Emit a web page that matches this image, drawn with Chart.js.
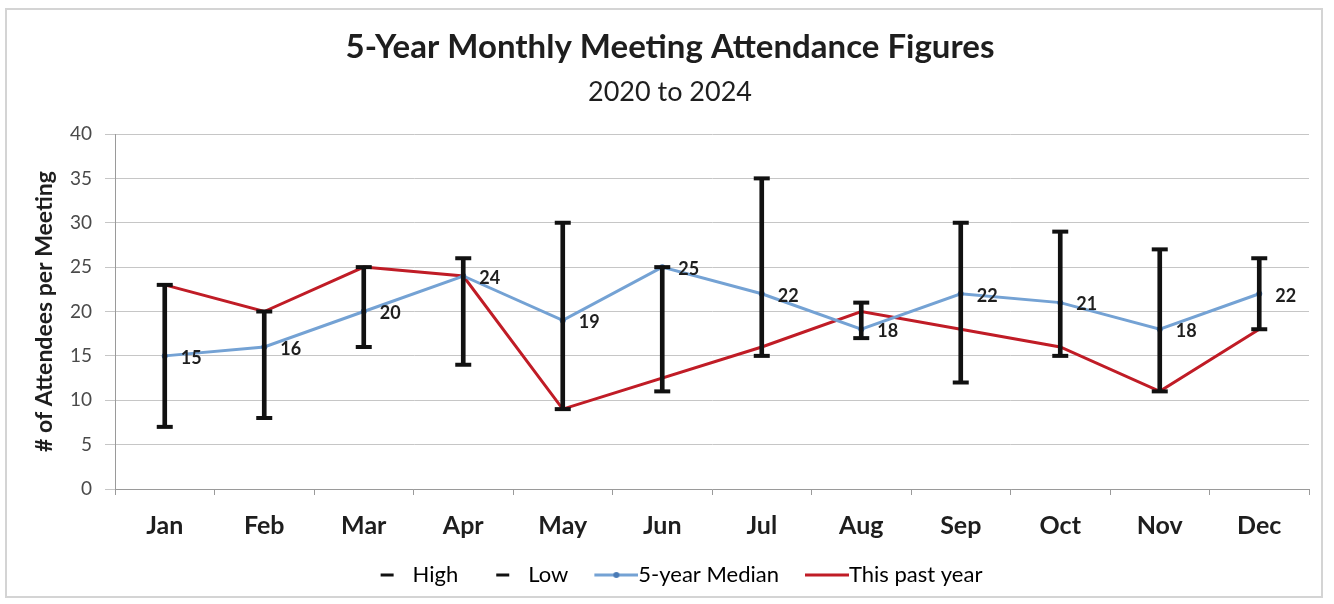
<!DOCTYPE html>
<html>
<head>
<meta charset="utf-8">
<script src="https://cdn.jsdelivr.net/npm/chart.js@4.4.1/dist/chart.umd.min.js"></script>
<style>
    html, body { margin: 0; padding: 0; background: #fff; }
    #frame {
        position: absolute;
        left: 5px;
        top: 8px;
        width: 1318px;
        height: 590px;
        border: 2px solid #d4d4d4;
        box-sizing: border-box;
    }
    canvas { display: block; }
</style>
</head>
<body>
<div id="frame"><canvas id="chartAttendance"></canvas></div>
<script>
const months = ['Jan', 'Feb', 'Mar', 'Apr', 'May', 'Jun', 'Jul', 'Aug', 'Sep', 'Oct', 'Nov', 'Dec'];
const highValues = [23, 20, 25, 26, 30, 25, 35, 21, 30, 29, 27, 26];
const lowValues = [7, 8, 16, 14, 9, 11, 15, 17, 12, 15, 11, 18];
const medianValues = [15, 16, 20, 24, 19, 25, 22, 18, 22, 21, 18, 22];
const pastYearValues = [23, 20, 25, 24, 9, null, 16, 20, 18, 16, 11, 18];
const yMin = 0;
const yMax = 40;
const yStep = 5;

(() => {
    const fontFamily = 'Lato, "Open Sans", sans-serif';
    const palette = {
        bar: '#111111',
        median: '#74a2d4',
        medianPoint: '#4a7ab5',
        pastYear: '#c01c26',
        grid: '#c6c6c6',
        axis: '#9a9a9a',
        text: '#1e1e1e'
    };

    // legend markers as images; the legend box is 44 wide, the image 66 wide centred on it,
    // so a line drawn from 22 to 66 runs right up to the label text
    const makeMarker = (kind) => {
        const c = document.createElement('canvas');
        c.width = 66;
        c.height = 12;
        const g = c.getContext('2d');
        g.lineWidth = 3;
        if (kind === 'cap') {
            g.strokeStyle = palette.bar;
            g.beginPath();
            g.moveTo(34, 6);
            g.lineTo(47, 6);
            g.stroke();
        } else {
            g.strokeStyle = kind === 'median' ? palette.median : palette.pastYear;
            g.beginPath();
            g.moveTo(22, 6);
            g.lineTo(66, 6);
            g.stroke();
            if (kind === 'median') {
                g.fillStyle = palette.medianPoint;
                g.beginPath();
                g.arc(44, 6, 3, 0, Math.PI * 2);
                g.fill();
            }
        }
        return c;
    };

    const medianLabels = {
        id: 'medianLabels',
        afterDatasetsDraw(chart) {
            const meta = chart.getDatasetMeta(3);
            const ctx = chart.ctx;
            ctx.save();
            ctx.font = `bold 18px ${fontFamily}`;
            ctx.fillStyle = palette.text;
            ctx.textAlign = 'left';
            ctx.textBaseline = 'middle';
            meta.data.forEach((pt, i) => {
                ctx.fillText(String(medianValues[i]), pt.x + 16, pt.y + 2);
            });
            ctx.restore();
        }
    };

    const legendItems = [
        { text: 'High', marker: makeMarker('cap') },
        { text: 'Low', marker: makeMarker('cap') },
        { text: '5-year Median', marker: makeMarker('median') },
        { text: 'This past year', marker: makeMarker('red') }
    ];

    const canvas = document.getElementById('chartAttendance');
    new Chart(canvas, {
        data: {
            labels: months,
            datasets: [
                {
                    type: 'bar',
                    label: 'Range',
                    data: lowValues.map((low, i) => [low, highValues[i]]),
                    backgroundColor: palette.bar,
                    barThickness: 4,
                    order: 0
                },
                {
                    type: 'line',
                    label: 'High',
                    data: highValues,
                    showLine: false,
                    pointStyle: 'line',
                    pointRadius: 8,
                    borderWidth: 4,
                    borderColor: palette.bar,
                    order: 0
                },
                {
                    type: 'line',
                    label: 'Low',
                    data: lowValues,
                    showLine: false,
                    pointStyle: 'line',
                    pointRadius: 8,
                    borderWidth: 4,
                    borderColor: palette.bar,
                    order: 0
                },
                {
                    type: 'line',
                    label: '5-year Median',
                    data: medianValues,
                    borderColor: palette.median,
                    borderWidth: 3,
                    pointRadius: 3,
                    pointBackgroundColor: palette.medianPoint,
                    pointBorderColor: palette.medianPoint,
                    pointBorderWidth: 0,
                    tension: 0,
                    order: 1
                },
                {
                    type: 'line',
                    label: 'This past year',
                    data: pastYearValues,
                    borderColor: palette.pastYear,
                    borderWidth: 3,
                    pointRadius: 0,
                    spanGaps: true,
                    tension: 0,
                    order: 2
                }
            ]
        },
        options: {
            responsive: true,
            maintainAspectRatio: false,
            animation: false,
            events: [],
            layout: {
                padding: { top: 18, right: 8, bottom: 0, left: 20 }
            },
            plugins: {
                title: {
                    display: true,
                    text: '5-Year Monthly Meeting Attendance Figures',
                    color: palette.text,
                    font: { family: fontFamily, size: 33, weight: 'bold' },
                    padding: { top: 0, bottom: 8 }
                },
                subtitle: {
                    display: true,
                    text: '2020 to 2024',
                    color: palette.text,
                    font: { family: fontFamily, size: 27, weight: 'normal' },
                    padding: { top: 0, bottom: 26 }
                },
                legend: {
                    position: 'bottom',
                    align: 'center',
                    labels: {
                        color: palette.text,
                        font: { family: fontFamily, size: 22 },
                        usePointStyle: true,
                        pointStyleWidth: 44,
                        padding: 15,
                        generateLabels() {
                            return legendItems.map((item, index) => ({
                                text: item.text,
                                pointStyle: item.marker,
                                fillStyle: 'transparent',
                                strokeStyle: 'transparent',
                                lineWidth: 0,
                                hidden: false,
                                datasetIndex: index + 1
                            }));
                        }
                    }
                },
                tooltip: { enabled: false }
            },
            scales: {
                x: {
                    ticks: {
                        color: palette.text,
                        font: { family: fontFamily, size: 25, weight: 'bold' },
                        padding: 16
                    },
                    grid: {
                        offset: true,
                        drawOnChartArea: false,
                        color: palette.axis,
                        tickLength: 6
                    },
                    border: { color: palette.axis },
                    afterFit(scale) {
                        scale.height = 60;
                    }
                },
                y: {
                    min: yMin,
                    max: yMax,
                    ticks: {
                        stepSize: yStep,
                        color: '#4a4a4a',
                        font: { family: fontFamily, size: 19 },
                        padding: 13
                    },
                    grid: {
                        color: palette.grid,
                        tickLength: 10
                    },
                    border: { color: palette.axis },
                    title: {
                        display: true,
                        text: '# of Attendees per Meeting',
                        color: palette.text,
                        font: { family: fontFamily, size: 23, weight: 'bold' },
                        padding: { top: 4, bottom: 4 }
                    },
                    afterFit(scale) {
                        scale.width = 88;
                    }
                }
            }
        },
        plugins: [medianLabels]
    });
})();
</script>
</body>
</html>
